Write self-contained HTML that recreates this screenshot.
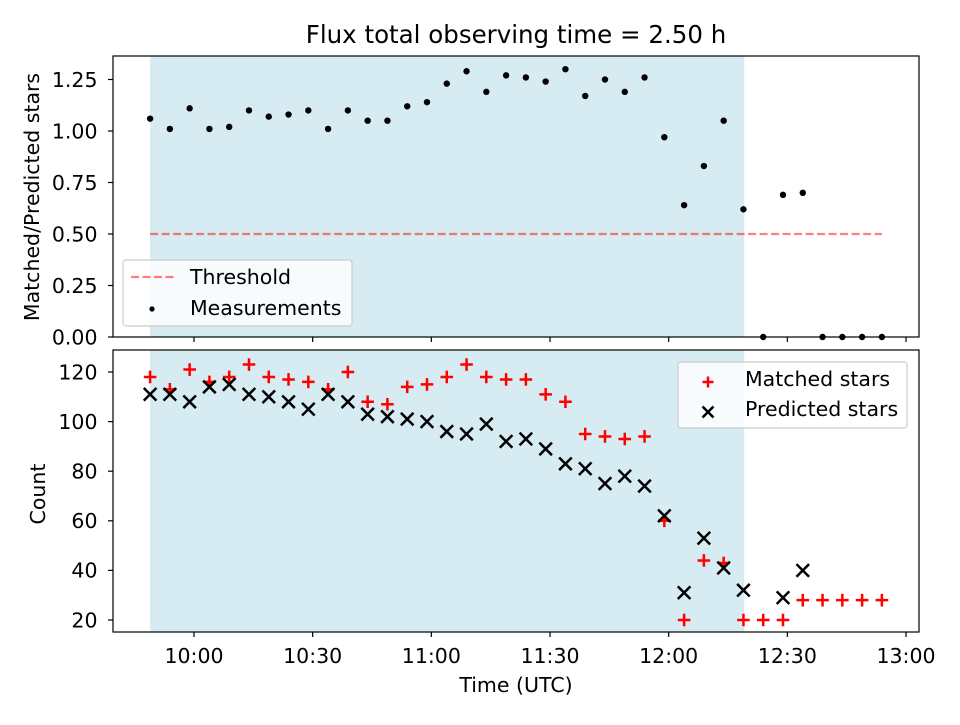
<!DOCTYPE html>
<html><head><meta charset="utf-8"><style>
body{margin:0;background:#fff;}
svg text{font-family:"DejaVu Sans","Liberation Sans",sans-serif;fill:#000;}
</style></head><body>
<svg id="chart" width="960" height="720" viewBox="0 0 960 720" xmlns="http://www.w3.org/2000/svg">
<text x="516" y="43" font-size="24.5" text-anchor="middle">Flux total observing time = 2.50 h</text>
<g id="top"></g>
<g id="bot"></g>
</svg>
<script>
// minutes since 09:00
const times = [48.9,53.9,58.9,63.9,68.9,73.9,78.9,83.9,88.9,93.9,98.9,103.9,108.9,113.9,118.9,123.9,128.9,133.9,138.9,143.9,148.9,153.9,158.9,163.9,168.9,173.9,178.9,183.9,188.9,193.9,198.9,203.9,208.9,213.9,218.9,223.9,228.9,233.9];
const ratio = [1.06,1.01,1.11,1.01,1.02,1.10,1.07,1.08,1.10,1.01,1.10,1.05,1.05,1.12,1.14,1.23,1.29,1.19,1.27,1.26,1.24,1.30,1.17,1.25,1.19,1.26,0.97,0.64,0.83,1.05,0.62,0.00,0.69,0.70,0.00,0.00,0.00,0.00];
const matched = [118,113,121,116,118,123,118,117,116,113,120,108,107,114,115,118,123,118,117,117,111,108,95,94,93,94,60,20,44,43,20,20,20,28,28,28,28,28];
const predicted = [111,111,108,114,115,111,110,108,105,111,108,103,102,101,100,96,95,99,92,93,89,83,81,75,78,74,62,31,53,41,32,null,29,40,null,null,null,null];
const xTicks = [60,90,120,150,180,210,240];
const xTickLabels = ["10:00","10:30","11:00","11:30","12:00","12:30","13:00"];
const topTicks = [0,0.25,0.5,0.75,1.0,1.25];
const topTickLabels = ["0.00","0.25","0.50","0.75","1.00","1.25"];
const botTicks = [20,40,60,80,100,120];
const threshold = 0.5;
const shadeStart = 48.9, shadeEnd = 199.1;

const NS="http://www.w3.org/2000/svg";
const L=113,R=919,FS=20.5;
const X=t=>194+(t-60)*(118.67/30);
const YT=v=>337-v*206;
const YB=v=>620-(v-20)*2.48;
function mk(p,tag,at){const e=document.createElementNS(NS,tag);for(const k in at)e.setAttribute(k,at[k]);p.appendChild(e);return e;}

function panel(g,top,bot,ticks,labels,Y,ylabel,ylx,yly,showX){
  const s=mk(g,'rect',{x:X(shadeStart),y:top,width:X(shadeEnd)-X(shadeStart),height:bot-top,fill:'#add8e6','fill-opacity':0.5});
  
  
  ticks.forEach((v,i)=>{const y=Y(v);
    mk(g,'line',{x1:L-5,x2:L,y1:y,y2:y,stroke:'#000','stroke-width':1.2});
    const t=mk(g,'text',{x:L-15.5,y:y+7.3,'font-size':FS,'text-anchor':'end'});t.textContent=labels[i];
    
    });
  xTicks.forEach((v,i)=>{const x=X(v);
    mk(g,'line',{x1:x,x2:x,y1:bot,y2:bot+5,stroke:'#000','stroke-width':1.2});
    if(showX){const t=mk(g,'text',{x:x,y:663,'font-size':FS,'text-anchor':'middle'});t.textContent=xTickLabels[i];
      
      }});
  const yl=mk(g,'text',{x:0,y:0,'font-size':FS,'text-anchor':'middle',transform:`translate(${ylx},${yly}) rotate(-90)`});yl.textContent=ylabel;
  
  
}
const gt=document.getElementById('top'),gb=document.getElementById('bot');
panel(gt,56,337,topTicks,topTickLabels,YT,'Matched/Predicted stars',39,197,false);
panel(gb,350,632,botTicks,botTicks.map(String),YB,'Count',45,494,true);

const th=mk(gt,'line',{x1:X(times[0]),x2:X(times[times.length-1]),y1:YT(threshold),y2:YT(threshold),stroke:'#ff0000','stroke-opacity':0.5,'stroke-width':2.2,'stroke-dasharray':'8,3.5'});


ratio.forEach((v,i)=>{const c=mk(gt,'circle',{cx:X(times[i]),cy:YT(v),r:3.2,fill:'#000'});
  
  });
function plus(g,x,y,s){return mk(g,'path',{d:`M${x-s},${y}h${2*s}M${x},${y-s}v${2*s}`,stroke:'#ff0000','stroke-width':2.5});}
function cross(g,x,y,s){return mk(g,'path',{d:`M${x-s},${y-s}L${x+s},${y+s}M${x-s},${y+s}L${x+s},${y-s}`,stroke:'#000','stroke-width':2.5});}
matched.forEach((v,i)=>{const p=plus(gb,X(times[i]),YB(v),6.3);
  
  });
predicted.forEach((v,i)=>{if(v===null)return;const p=cross(gb,X(times[i]),YB(v),6.3);
  
  });

mk(gt,'rect',{x:L,y:56,width:R-L,height:281,fill:'none',stroke:'#000','stroke-width':1.2});
mk(gb,'rect',{x:L,y:350,width:R-L,height:282,fill:'none',stroke:'#000','stroke-width':1.2});
const xl=mk(gb,'text',{x:516,y:692,'font-size':FS,'text-anchor':'middle'});xl.textContent='Time (UTC)';



// legends
const lg1=mk(gt,'g',{});


mk(lg1,'rect',{x:123,y:260,width:229,height:66,rx:3,fill:'#fff','fill-opacity':0.8,stroke:'#ccc','stroke-width':1.2});
mk(lg1,'line',{x1:131,x2:174,y1:277,y2:277,stroke:'#ff0000','stroke-opacity':0.5,'stroke-width':2.2,'stroke-dasharray':'8,3.5'});
let t=mk(lg1,'text',{x:190,y:284,'font-size':FS});t.textContent='Threshold';
mk(lg1,'circle',{cx:152,cy:309,r:2.6,fill:'#000'});
t=mk(lg1,'text',{x:190,y:315,'font-size':FS});t.textContent='Measurements';
const lg2=mk(gb,'g',{});


mk(lg2,'rect',{x:678,y:362,width:229,height:66,rx:3,fill:'#fff','fill-opacity':0.8,stroke:'#ccc','stroke-width':1.2});
plus(lg2,708,382,5.5);
t=mk(lg2,'text',{x:745,y:386,'font-size':FS});t.textContent='Matched stars';
cross(lg2,708,412,5.5);
t=mk(lg2,'text',{x:745,y:416,'font-size':FS});t.textContent='Predicted stars';
</script>
</body></html>
